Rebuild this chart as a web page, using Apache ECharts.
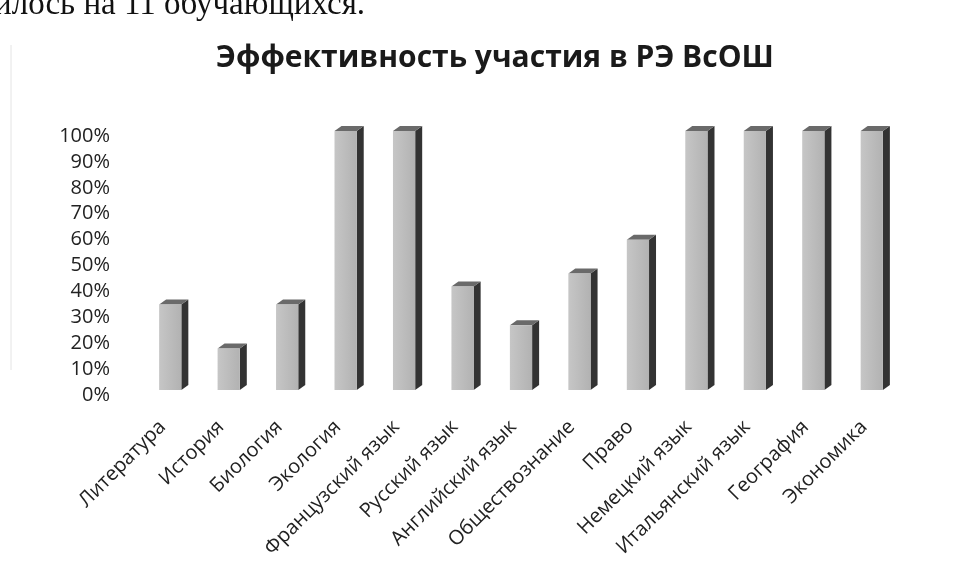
<!DOCTYPE html>
<html>
<head>
<meta charset="utf-8">
<script src="https://cdn.jsdelivr.net/npm/echarts@6/dist/echarts.min.js"></script>
<style>
html,body{margin:0;padding:0;background:#fff;}
#chart{width:964px;height:587px;}
</style>
</head>
<body>
<div id="chart"></div>
<script>
const categories = ['Литература','История','Биология','Экология','Французский язык','Русский язык','Английский язык','Обществознание','Право','Немецкий язык','Итальянский язык','География','Экономика'];
const values = [33, 16, 33, 100, 100, 40, 25, 45, 58, 100, 100, 100, 100];
const yTicks = [0,10,20,30,40,50,60,70,80,90,100];

const chart = echarts.init(document.getElementById('chart'));
const data = values.map((v, i) => [i, v]);

function renderBar(params, api) {
  const i = api.value(0), v = api.value(1);
  const top = api.coord([i, v]);
  const base = api.coord([i, 0]);
  const bw = api.size([1, 0])[0] * 0.38;
  const dx = 7, dy = 5;
  const x0 = top[0] - bw / 2, x1 = top[0] + bw / 2;
  const yt = top[1], yb = base[1];
  return {
    type: 'group',
    children: [
      { type: 'polygon', shape: { points: [[x1, yt], [x1 + dx, yt - dy], [x1 + dx, yb - dy], [x1, yb]] },
        style: { fill: '#333333' } },
      { type: 'polygon', shape: { points: [[x0, yt], [x0 + dx, yt - dy], [x1 + dx, yt - dy], [x1, yt]] },
        style: { fill: '#6a6a6a' } },
      { type: 'rect', shape: { x: x0, y: yt, width: bw, height: yb - yt },
        style: { fill: new echarts.graphic.LinearGradient(0, 0, 1, 0, [
          { offset: 0, color: '#c6c6c6' }, { offset: 0.5, color: '#bcbcbc' }, { offset: 1, color: '#b2b2b2' }]) } }
    ]
  };
}

chart.setOption({
  backgroundColor: '#ffffff',
  animation: false,
  title: {
    text: 'Эффективность участия в РЭ ВсОШ',
    left: 490, textAlign: 'center', top: 38,
    textStyle: { fontFamily: 'Open Sans', fontWeight: 'bold', fontSize: 30, color: '#1a1a1a' }
  },
  graphic: [
    { type: 'text', left: -6, top: -11,
      style: { text: 'илось на 11 обучающихся.', font: '33px "Liberation Serif"', fill: '#111' } },
    { type: 'line', shape: { x1: 11, y1: 45, x2: 11, y2: 370 }, style: { stroke: '#e4e4e4', lineWidth: 1 } }
  ],
  grid: { left: 141, right: 63, top: 131, bottom: 197, containLabel: false },
  xAxis: {
    type: 'category', data: categories,
    axisLine: { show: false }, axisTick: { show: false },
    axisLabel: { rotate: 45, interval: 0, margin: 26, padding: [0, 11, 0, 0],
      fontFamily: 'Open Sans', fontSize: 20, color: '#222' }
  },
  yAxis: {
    type: 'value', min: 0, max: 100, interval: 10,
    axisLine: { show: false }, axisTick: { show: false }, splitLine: { show: false },
    axisLabel: { margin: 31, fontFamily: 'Open Sans', fontSize: 20, color: '#222',
      verticalAlign: 'top', lineHeight: 10,
      formatter: v => (yTicks.indexOf(v) >= 0 ? v + '%' : '') }
  },
  series: [{ type: 'custom', renderItem: renderBar, data: data, encode: { x: 0, y: 1 } }]
});
</script>
</body>
</html>
